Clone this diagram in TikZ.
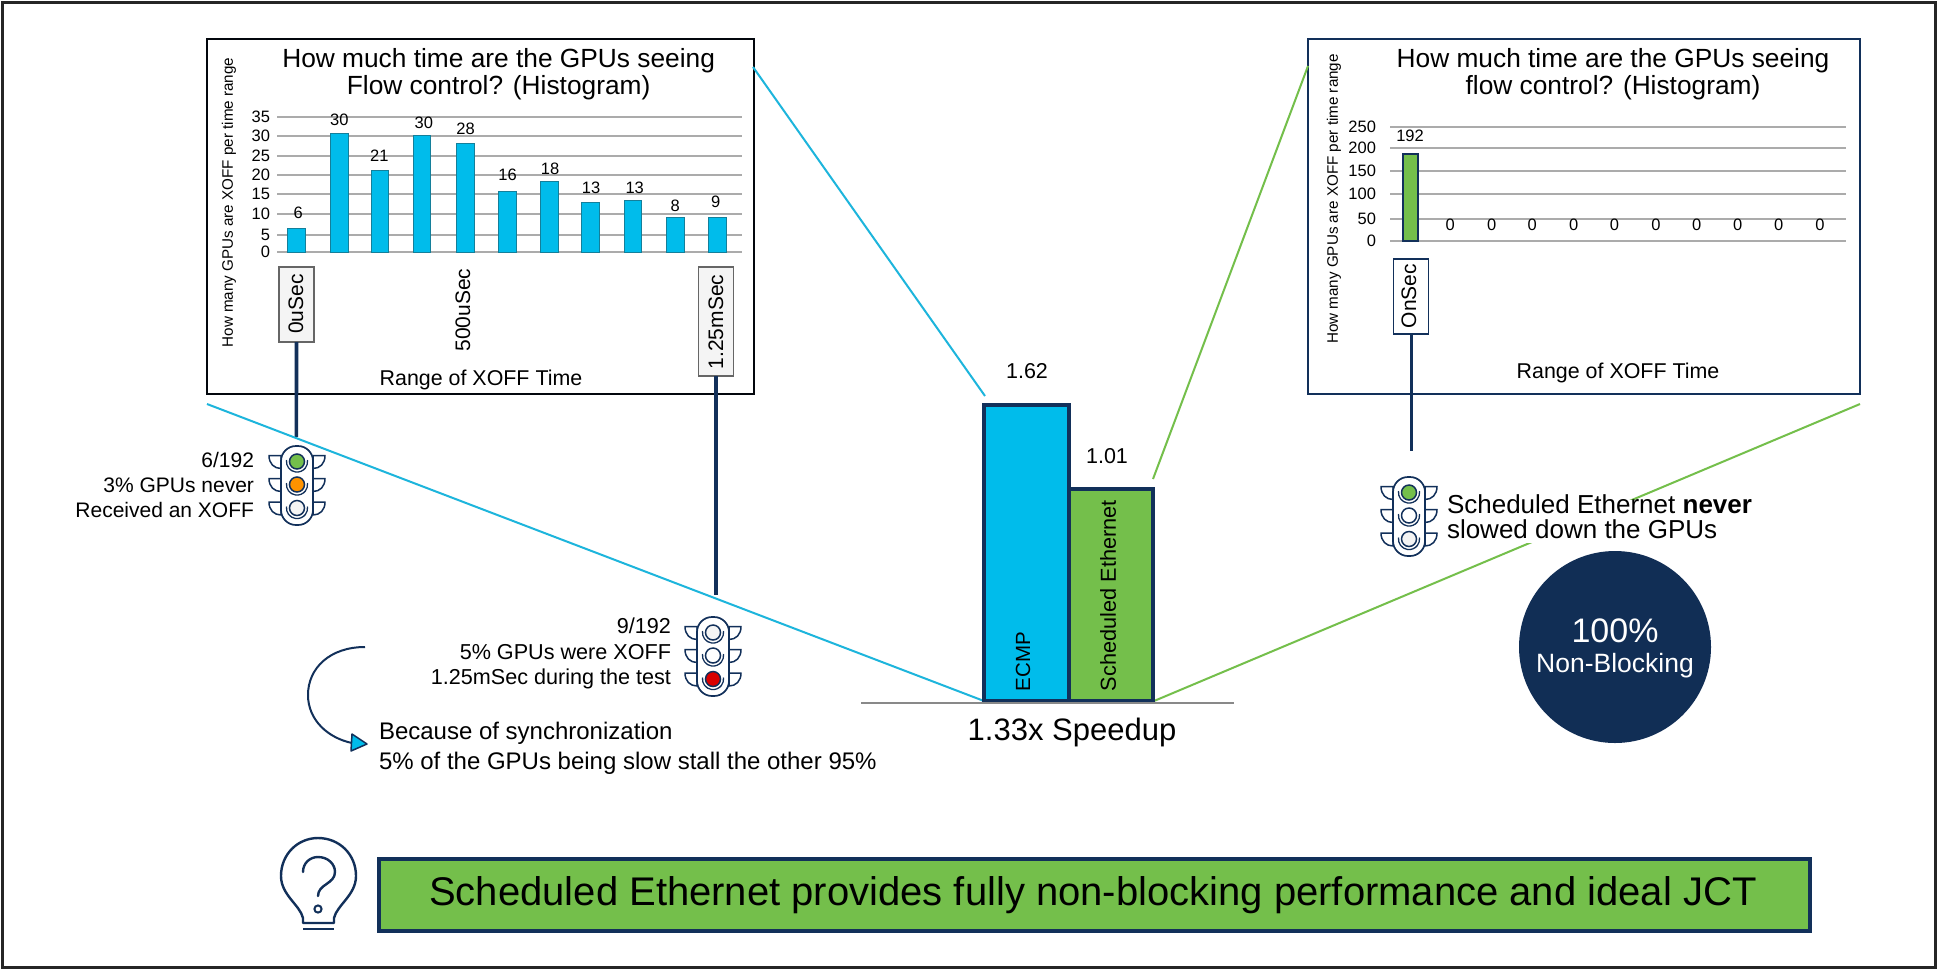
\documentclass[tikz,border=0pt]{standalone}
\usepackage{fontspec}
\setmainfont{Liberation Sans}
\definecolor{navy}{HTML}{12305A}
\definecolor{teal}{HTML}{1DB5DC}
\definecolor{barblue}{HTML}{00BCEB}
\definecolor{grn}{HTML}{74BF4B}
\definecolor{grid}{HTML}{ABABAB}
\definecolor{off}{HTML}{F4F4F4}
\newcommand{\fsz}[1]{\fontsize{#1}{#1}\selectfont}
\newcommand{\tlight}[5]{%
\begin{scope}[shift={(#1,#2)}]
 \foreach \ly in {15.5,38.5,62}{
  \draw[navy,line width=1.5pt,line join=round] (-28,\ly-6) -- (-16,\ly-6) -- (-16,\ly+7) .. controls (-23,\ly+7) and (-28,\ly+2) .. cycle;
  \draw[navy,line width=1.5pt,line join=round] (28,\ly-6) -- (16,\ly-6) -- (16,\ly+7) .. controls (23,\ly+7) and (28,\ly+2) .. cycle;
 }
 \draw[navy,line width=1.7pt,fill=white,rounded corners=15pt] (-16,0) rectangle (16,79);
 \foreach \ly/\c in {15.5/#3,38.5/#4,62/#5}{
  \draw[navy,line width=1.5pt,fill=\c] (0,\ly) circle[radius=7.5];
  \draw[navy,line width=1.3pt] (-10.5,\ly-1.5) arc[start angle=188,end angle=-8,radius=10.6];
 }
\end{scope}}
\tikzset{
 every node/.style={outer sep=0pt},
 box/.style={draw=navy,fill=white,line width=2.3pt},
 gridl/.style={grid,line width=1.6pt},
 tick/.style={anchor=east,inner sep=0pt,font=\fsz{16.5}},
 val/.style={inner sep=0pt,font=\fsz{16.5}},
 ttl/.style={inner sep=0pt,align=center,font=\fontsize{26.3}{27}\selectfont},
 axis/.style={inner sep=0pt,rotate=90,font=\fsz{15.2}},
 xlab/.style={inner sep=0pt,anchor=base,font=\fsz{21.4}},
 hbar/.style={draw=black!30!teal,fill=barblue,line width=1pt,anchor=north west,minimum width=17.5pt,inner sep=0pt},
 tag/.style={draw=black!60!white,fill=off,line width=1.2pt,inner sep=0pt,anchor=north,minimum width=35pt},
 tagtxt/.style={inner sep=0pt,rotate=90,font=\fsz{21}},
 link/.style={navy,line width=3.6pt},
 tealline/.style={teal,line width=2pt},
 grnline/.style={grn,line width=2pt},
 note/.style={inner sep=0pt},
 bigbar/.style={draw=navy,line width=3.4pt,inner sep=0pt,anchor=north west},
}
\begin{document}
\begin{tikzpicture}[x=1pt,y=-1pt]
\useasboundingbox (0,0) rectangle (1937,970);
\fill[white] (0,0) rectangle (1937,970);
\node[draw=black!85!white,line width=3pt,anchor=north west,minimum width=1933pt,minimum height=965pt,inner sep=0pt] (frame) at (2,2) {};

% connector end points
\coordinate (tA) at (753,67);
\coordinate (tB) at (985,396);
\coordinate (tC) at (207,404);
\coordinate (tD) at (984,701);
\coordinate (gA) at (1308,66);
\coordinate (gB) at (1153,479);
\coordinate (gC) at (1860,404);
\coordinate (gD) at (1154,701);
\coordinate (eL1) at (296.4,437);
\coordinate (eL2) at (716,595);
\coordinate (eL3) at (1411,451);

% left chart
\node[box,draw=black!85!navy,anchor=north west,minimum width=547pt,minimum height=355pt,inner sep=0pt] (lbox) at (207,39) {};
\node[ttl,anchor=north] (ltitle) at (498.6,48) {How much time are the GPUs seeing\\Flow control? (Histogram)};
\node[axis] (lylab) at (229,202.5) {How many GPUs are XOFF per time range};
\foreach \y/\t in {117/35,136/30,156/25,175/20,194/15,214/10,235/5,252/0}{
 \draw[gridl] (277,\y) -- (742,\y);
 \node[tick] (lt\t) at (270,\y) {\t};
}
\foreach \i/\x/\t/\lx/\ly/\v in {1/287.6/228/298.3/213/6,2/330.5/133.7/339.3/120/30,3/371.4/170/379.4/155.7/21,4/413.1/135.3/423.8/122.7/30,5/456.7/143.3/465.5/128.7/28,6/498.8/191/507.6/175/16,7/540.9/181.7/550/169/18,8/581.9/202/591/187.7/13,9/624/200.3/634.7/187.7/13,10/666.8/217.7/675.3/205.7/8,11/708.9/217.7/715.8/201.7/9}{
 \pgfmathsetmacro\hh{252.5-\t}
 \node[hbar,minimum height=\hh pt] (lb\i) at (\x,\t) {};
 \node[val] (lv\i) at (\lx,\ly) {\v};
}
\node[tag,minimum height=75pt] (tag0) at (296.5,267) {};
\node[tagtxt] (tag0t) at (296,304) {0uSec};
\node[tag,minimum height=109pt] (tag1) at (716,267) {};
\node[tagtxt] (tag1t) at (716,322) {1.25mSec};
\node[tagtxt] (t500) at (463,310) {500uSec};
\node[xlab] (lx) at (481,385) {Range of XOFF Time};
\draw[link] (tag0.south) -- (eL1);
\draw[link] (tag1.south) -- (eL2);

% right chart
\node[box,anchor=north west,minimum width=552pt,minimum height=355pt,inner sep=0pt] (rbox) at (1308,39) {};
\node[ttl,anchor=north] (rtitle) at (1613,48) {How much time are the GPUs seeing\\flow control? (Histogram)};
\node[axis] (rylab) at (1334,199) {How many GPUs are XOFF per time range};
\foreach \y/\t in {127/250,148/200,171/150,194/100,219/50,241/0}{
 \draw[gridl] (1390,\y) -- (1846,\y);
 \node[tick] (rt\t) at (1376,\y) {\t};
}
\node[draw=navy,fill=grn,line width=2.2pt,anchor=north west,minimum width=15pt,minimum height=87pt,inner sep=0pt] (rb1) at (1403,154) {};
\node[val] (rv1) at (1410,136) {192};
\foreach \i/\x in {2/1450.3,3/1491.7,4/1532.3,5/1573.6,6/1614.5,7/1655.9,8/1696.8,9/1737.8,10/1778.7,11/1820}{
 \node[val] (rv\i) at (\x,225) {0};
}
\node[tag,fill=white,draw=navy,minimum height=75pt] (tag2) at (1411,259) {};
\node[tagtxt] (tag2t) at (1409,296) {OnSec};
\node[xlab] (rx) at (1618,378) {Range of XOFF Time};
\draw[link,line width=3pt] (tag2.south) -- (eL3);

% traffic lights
\tlight{297}{446}{grn}{orange!85!yellow}{off}
\tlight{713}{617}{off}{white}{red!85!black}
\tlight{1409}{477}{grn}{white}{off}

% guide lines
\draw[tealline] (tA) -- (tB);
\draw[tealline] (tC) -- (tD);
\draw[grnline] (gA) -- (gB);
\draw[grnline] (gC) -- (gD);

% notes
\node[note,anchor=north east,align=right,font=\fontsize{21}{25}\selectfont] (n1) at (254,452) {6/192\\3\% GPUs never\\Received an XOFF};
\node[note,anchor=north east,align=right,font=\fontsize{21.6}{25.5}\selectfont] (n2) at (671,618) {9/192\\5\% GPUs were XOFF\\1.25mSec during the test};
\node[fill=white,anchor=north west,minimum width=315pt,minimum height=43pt,inner sep=0pt] (mask) at (1446,500) {};
\node[note,anchor=north west,align=left,font=\fontsize{26}{25}\selectfont] (n3) at (1447,495) {Scheduled Ethernet \textbf{never}\\slowed down the GPUs};
\node[note,anchor=north west,align=left,font=\fontsize{24}{30}\selectfont] (n4) at (379,722) {Because of synchronization\\5\% of the GPUs being slow stall the other 95\%};

% curved arrow
\coordinate (aS) at (365,647);
\coordinate (aE) at (352,743);
\draw[navy,line width=2pt] (aS) .. controls (330,647) and (308,668) .. (308,695) .. controls (308,720) and (328,738) .. (aE);
\draw[navy,line width=1.5pt,fill=barblue,line join=round] (352,734) -- (367,744) -- (351,751) -- cycle;

% centre bars
\node[bigbar,fill=barblue,minimum width=85pt,minimum height=296pt] (ecmp) at (984,405) {};
\node[bigbar,fill=grn,minimum width=84pt,minimum height=212pt] (sch) at (1069,489) {};
\draw[grid!80!black,line width=2.4pt] (861,703) -- (1234,703);
\node[inner sep=0pt,anchor=base,font=\fsz{21.5}] (v162) at (1027,378) {1.62};
\node[inner sep=0pt,anchor=base,font=\fsz{21.5}] (v101) at (1107,463) {1.01};
\node[inner sep=0pt,rotate=90,anchor=west,font=\fsz{20.5}] (ecmpt) at (1023,691) {ECMP};
\node[inner sep=0pt,rotate=90,anchor=west,font=\fsz{21.7}] (scht) at (1108,691) {Scheduled Ethernet};
\node[inner sep=0pt,anchor=base,font=\fsz{31}] (speed) at (1072,740) {1.33x Speedup};

% circle
\node[circle,fill=navy!95!black,minimum size=192pt,inner sep=0pt] (circ) at (1615,647) {};
\node[inner sep=0pt,anchor=base,text=white,font=\fsz{34}] (c1) at (1615,642) {100\%};
\node[inner sep=0pt,anchor=base,text=white,font=\fsz{26.5}] (c2) at (1615,672) {Non-Blocking};

% bottom banner
\node[draw=navy,fill=grn,line width=4pt,anchor=north west,minimum width=1431pt,minimum height=72pt,inner sep=0pt] (banner) at (379,859) {};
\node[inner sep=0pt,anchor=base,font=\fsz{40}] (bannert) at (1093,905) {Scheduled Ethernet provides fully non-blocking performance and ideal JCT};

% bulb
\draw[navy,line width=2.4pt,line join=round] (303,923) -- (303,918) .. controls (300,905) and (281,895) .. (281,876) .. controls (281,854) and (298,838) .. (318,838) .. controls (339,838) and (356,854) .. (356,876) .. controls (356,895) and (337,905) .. (334,918) -- (334,923) -- cycle;
\draw[navy,line width=2.4pt] (303,929) -- (334,929);
\draw[navy,line width=2.4pt,line cap=round] (303,872) .. controls (303,863) and (310,857) .. (318,857) .. controls (328,857) and (335,864) .. (335,872) .. controls (335,884) and (318,884) .. (318,896);
\draw[navy,line width=2pt] (318,909) circle[radius=3.6];
\end{tikzpicture}
\end{document}
